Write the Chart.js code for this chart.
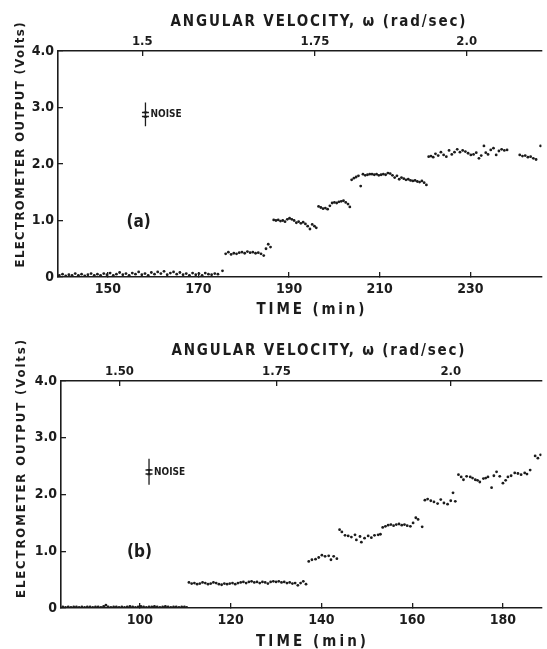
<!DOCTYPE html>
<html>
<head>
<meta charset="utf-8">
<script src="https://cdn.jsdelivr.net/npm/chart.js@4.4.1/dist/chart.umd.min.js"></script>
<style>
  body { margin: 0; background: #fff; }
  canvas { display: block; }
</style>
</head>
<body>
<canvas id="chartA" width="547" height="325"></canvas>
<canvas id="chartB" width="547" height="324"></canvas>
<script>
// ---- shared ----
const voltTicks = [0, 1, 2, 3, 4];

// ---- panel (a) ----
const timeRangeA = [139.0, 245.7];
const timeTicksA = [150, 170, 190, 210, 230];
const omegaLabelsA = ['1.5', '1.75', '2.0'];
const omegaTimesA = [157.6, 195.7, 229.2];

// [time (min), output (V)]
const stepA0 = [[139.3,0.03],[140.0,0.05],[140.7,0.02],[141.4,0.04],[142.1,0.03],[142.8,0.06],[143.5,0.03],[144.2,0.05],[144.9,0.02],[145.6,0.04],[146.3,0.06],[147.0,0.03],[147.7,0.05],[148.4,0.03],[149.1,0.06],[149.8,0.04],[150.5,0.07],[151.2,0.03],[151.9,0.05],[152.6,0.08],[153.3,0.04],[154.0,0.06],[154.7,0.03],[155.4,0.07],[156.1,0.05],[156.8,0.09],[157.5,0.04],[158.2,0.06],[158.9,0.03],[159.6,0.08],[160.3,0.05],[161.0,0.09],[161.7,0.06],[162.4,0.10],[163.1,0.04],[163.8,0.07],[164.5,0.09],[165.2,0.05],[165.9,0.08],[166.6,0.04],[167.3,0.06],[168.0,0.03],[168.7,0.07],[169.4,0.04],[170.1,0.06],[170.8,0.03],[171.5,0.07],[172.2,0.05],[172.9,0.04],[173.6,0.06],[174.3,0.05],[175.3,0.11]];
const stepA1 = [[176.0,0.41],[176.6,0.44],[177.2,0.40],[177.8,0.42],[178.4,0.41],[179.0,0.43],[179.6,0.44],[180.2,0.42],[180.8,0.45],[181.4,0.43],[182.0,0.44],[182.6,0.42],[183.2,0.43],[183.8,0.41],[184.4,0.38],[184.9,0.50],[185.4,0.58],[185.9,0.53]];
const stepA2 = [[186.6,1.01],[187.1,1.00],[187.6,1.01],[188.1,0.99],[188.6,1.00],[189.1,0.98],[189.6,1.02],[190.1,1.04],[190.6,1.02],[191.1,1.00],[191.6,0.96],[192.1,0.98],[192.6,0.95],[193.1,0.97],[193.6,0.94],[194.1,0.90],[194.6,0.85],[195.1,0.93],[195.6,0.90],[196.0,0.87]];
const stepA3 = [[196.5,1.25],[197.0,1.23],[197.5,1.21],[198.0,1.22],[198.5,1.20],[199.0,1.26],[199.5,1.31],[200.0,1.32],[200.5,1.31],[201.0,1.33],[201.5,1.34],[202.0,1.35],[202.5,1.32],[203.0,1.29],[203.4,1.24]];
const stepA4 = [[203.8,1.72],[204.3,1.75],[204.8,1.77],[205.3,1.79],[205.8,1.61],[206.3,1.82],[206.8,1.80],[207.3,1.81],[207.8,1.82],[208.3,1.82],[208.8,1.81],[209.3,1.82],[209.8,1.80],[210.3,1.81],[210.8,1.82],[211.3,1.81],[211.8,1.84],[212.3,1.83],[212.8,1.80],[213.3,1.76],[213.8,1.79],[214.3,1.73],[214.8,1.76],[215.3,1.74],[215.8,1.72],[216.3,1.73],[216.8,1.71],[217.3,1.70],[217.8,1.71],[218.3,1.69],[218.8,1.68],[219.3,1.70],[219.8,1.67],[220.3,1.63]];
const stepA5 = [[220.8,2.13],[221.3,2.14],[221.8,2.12],[222.3,2.18],[222.9,2.15],[223.5,2.21],[224.1,2.16],[224.7,2.13],[225.3,2.24],[225.9,2.17],[226.5,2.21],[227.1,2.26],[227.7,2.21],[228.3,2.24],[228.9,2.22],[229.5,2.19],[230.1,2.16],[230.7,2.17],[231.3,2.20],[231.9,2.10],[232.4,2.15],[233.0,2.32],[233.4,2.20],[233.9,2.17],[234.5,2.25],[235.1,2.28],[235.7,2.16],[236.3,2.23],[236.9,2.26],[237.5,2.24],[238.1,2.25]];
const stepA6 = [[240.9,2.16],[241.5,2.14],[242.1,2.15],[242.7,2.12],[243.3,2.13],[243.9,2.10],[244.5,2.08],[245.5,2.32]];

// noise bar: time, top, bottom, band lines
const noiseA = { t: 158.3, top: 3.09, bottom: 2.67, band: [2.91, 2.84] };
const labelA = { text: '(a)', t: 156.8, v: 0.96 };

// ---- panel (b) ----
const timeRangeB = [82.6, 188.5];
const timeTicksB = [100, 120, 140, 160, 180];
const omegaLabelsB = ['1.50', '1.75', '2.0'];
const omegaTimesB = [95.5, 130.1, 168.5];

const stepB0 = [[83.0,0.02],[83.6,0.01],[84.2,0.02],[84.8,0.01],[85.4,0.02],[86.0,0.02],[86.6,0.01],[87.2,0.02],[87.8,0.01],[88.4,0.02],[89.0,0.02],[89.6,0.01],[90.2,0.02],[90.8,0.02],[91.4,0.01],[92.0,0.03],[92.5,0.05],[93.0,0.02],[93.6,0.01],[94.2,0.02],[94.8,0.02],[95.4,0.01],[96.0,0.02],[96.6,0.01],[97.2,0.02],[97.8,0.03],[98.4,0.02],[99.0,0.01],[99.6,0.02],[100.2,0.03],[100.8,0.02],[101.4,0.01],[102.0,0.02],[102.6,0.02],[103.2,0.03],[103.8,0.02],[104.4,0.01],[105.0,0.02],[105.6,0.03],[106.2,0.02],[106.8,0.01],[107.4,0.02],[108.0,0.02],[108.6,0.01],[109.2,0.02],[109.8,0.02],[110.3,0.01]];
const stepB1 = [[110.8,0.45],[111.4,0.43],[112.0,0.44],[112.6,0.42],[113.2,0.43],[113.8,0.45],[114.4,0.44],[115.0,0.42],[115.6,0.43],[116.2,0.45],[116.8,0.44],[117.4,0.42],[118.0,0.41],[118.6,0.43],[119.2,0.42],[119.8,0.43],[120.4,0.44],[121.0,0.42],[121.6,0.44],[122.2,0.45],[122.8,0.46],[123.4,0.44],[124.0,0.46],[124.6,0.47],[125.2,0.45],[125.8,0.46],[126.4,0.44],[127.0,0.46],[127.6,0.45],[128.2,0.43],[128.8,0.46],[129.4,0.47],[130.0,0.46],[130.6,0.47],[131.2,0.45],[131.8,0.46],[132.4,0.44],[133.0,0.45],[133.6,0.43],[134.2,0.44],[134.8,0.40],[135.4,0.44],[136.0,0.47],[136.6,0.42]];
const stepB2 = [[137.2,0.82],[137.9,0.85],[138.7,0.86],[139.4,0.89],[140.1,0.93],[140.8,0.91],[141.6,0.92],[142.1,0.85],[142.7,0.91],[143.4,0.87]];
const stepB3 = [[144.0,1.38],[144.5,1.34],[145.2,1.28],[145.9,1.27],[146.6,1.25],[147.4,1.29],[147.7,1.20],[148.5,1.26],[148.8,1.16],[149.5,1.23],[150.3,1.27],[151.0,1.24],[151.7,1.28],[152.5,1.29],[153.0,1.30]];
const stepB4 = [[153.5,1.42],[154.1,1.44],[154.7,1.46],[155.3,1.47],[155.9,1.45],[156.5,1.47],[157.1,1.48],[157.7,1.46],[158.3,1.47],[158.9,1.45],[159.6,1.44],[160.2,1.50],[160.8,1.59],[161.3,1.56],[162.2,1.43]];
const stepB5 = [[162.8,1.90],[163.4,1.92],[164.1,1.89],[164.8,1.87],[165.6,1.84],[166.3,1.91],[167.0,1.85],[167.8,1.83],[168.5,1.89],[169.0,2.03],[169.5,1.88]];
const stepB6 = [[170.2,2.35],[170.8,2.31],[171.3,2.26],[172.0,2.32],[172.8,2.31],[173.3,2.29],[173.9,2.26],[174.4,2.25],[174.9,2.22],[175.7,2.28],[176.2,2.29],[176.7,2.31],[177.5,2.12],[178.0,2.33],[178.6,2.40],[179.3,2.32],[180.0,2.20],[180.6,2.25],[181.1,2.31],[181.8,2.33],[182.6,2.38],[183.3,2.37],[184.0,2.35],[184.8,2.38],[185.3,2.36],[186.0,2.43]];
const stepB7 = [[187.1,2.68],[187.7,2.64],[188.3,2.70]];

const noiseB = { t: 102.0, top: 2.63, bottom: 2.17, band: [2.43, 2.36] };
const labelB = { text: '(b)', t: 99.9, v: 0.98 };

// ---- drawing ----
const FONT = '"DejaVu Sans Condensed", "Liberation Sans Narrow", "DejaVu Sans", sans-serif';
const INK = '#1c1c1c';

function spacedText(ctx, text, cx, cy, width, font, rot) {
  ctx.save();
  ctx.font = font;
  ctx.letterSpacing = '0px';
  const w = ctx.measureText(text).width;
  ctx.letterSpacing = ((width - w) / (text.length - 1)) + 'px';
  ctx.translate(cx, cy);
  if (rot) ctx.rotate(rot);
  ctx.textAlign = 'left';
  ctx.textBaseline = 'middle';
  ctx.fillText(text, -width / 2, 0);
  ctx.restore();
}

const textPlugin = {
  id: 'texts',
  afterDraw(chart, args, o) {
    const { ctx, scales: { x, y } } = chart;
    ctx.save();
    ctx.fillStyle = INK;
    spacedText(ctx, 'ANGULAR VELOCITY, \u03c9 (rad/sec)', o.top.cx, o.top.cy, o.top.w, `bold 15px ${FONT}`);
    spacedText(ctx, 'TIME (min)', o.time.cx, o.time.cy, o.time.w, `bold 15px ${FONT}`);
    spacedText(ctx, 'ELECTROMETER OUTPUT (Volts)', o.yt.cx, o.yt.cy, o.yt.w, `bold 13px ${FONT}`, -Math.PI / 2);
    ctx.font = `bold 17px ${FONT}`;
    ctx.textAlign = 'center';
    ctx.textBaseline = 'middle';
    ctx.fillText(o.label.text, x.getPixelForValue(o.label.t), y.getPixelForValue(o.label.v));
    ctx.font = `bold 10px ${FONT}`;
    ctx.textAlign = 'left';
    ctx.fillText('NOISE', x.getPixelForValue(o.noise.t) + 5, y.getPixelForValue((o.noise.band[0] + o.noise.band[1]) / 2));
    ctx.restore();
  }
};

function makePanel(id, p) {
  const pts = p.steps.flat().map(([t, v]) => ({ x: t, y: v }));
  const n = p.noise;
  const tickFont = { family: FONT, size: 14, weight: 'bold' };
  const axisCommon = {
    type: 'linear',
    min: p.range[0],
    max: p.range[1],
    grid: { drawOnChartArea: false, drawTicks: true, tickLength: -5, color: INK, lineWidth: 1.3 },
    border: { color: INK, width: 1.6 }
  };
  new Chart(document.getElementById(id), {
    type: 'scatter',
    data: {
      datasets: [
        { data: pts, pointRadius: 1.4, pointBackgroundColor: INK, pointBorderWidth: 0, showLine: false },
        { data: [{ x: n.t, y: n.top }, { x: n.t, y: n.bottom }], showLine: true, borderColor: INK, borderWidth: 1.3, pointRadius: 0 },
        { data: n.band.map(v => ({ x: n.t, y: v })), pointStyle: 'line', pointRadius: 3.5, pointBorderColor: INK, pointBorderWidth: 1.5 },
        { data: n.band.map(v => ({ x: n.t, y: v })), pointStyle: 'triangle', pointRotation: [180, 0], pointRadius: 2.2,
          pointBackgroundColor: INK, pointBorderWidth: 0, clip: false }
      ]
    },
    options: {
      responsive: false,
      animation: false,
      events: [],
      layout: { padding: 0 },
      plugins: {
        legend: { display: false },
        tooltip: { enabled: false },
        texts: p.texts
      },
      scales: {
        x: Object.assign({}, axisCommon, {
          position: 'bottom',
          afterBuildTicks: s => { s.ticks = p.timeTicks.map(v => ({ value: v })); },
          ticks: { font: tickFont, color: INK, padding: 9, maxRotation: 0, autoSkip: false },
          afterFit: s => { s.height = p.bottomH; }
        }),
        x2: Object.assign({}, axisCommon, {
          position: 'top',
          afterBuildTicks: s => { s.ticks = p.omegaTimes.map(v => ({ value: v })); },
          ticks: { font: { family: FONT, size: 13, weight: 'bold' }, color: INK, padding: 7, maxRotation: 0, autoSkip: false,
                   callback: (v, i) => p.omegaLabels[i] },
          afterFit: s => { s.height = p.topH; }
        }),
        y: {
          type: 'linear',
          position: 'left',
          min: 0,
          max: 4,
          afterBuildTicks: s => { s.ticks = voltTicks.map(v => ({ value: v })); },
          ticks: { font: tickFont, color: INK, padding: 9, callback: v => v === 0 ? '0' : v.toFixed(1) },
          grid: { drawOnChartArea: false, drawTicks: true, tickLength: -5, color: INK, lineWidth: 1.3 },
          border: { color: INK, width: 1.6 },
          afterFit: s => { s.width = p.yWidth; }
        }
      }
    },
    plugins: [textPlugin]
  });
}

makePanel('chartA', {
  steps: [stepA0, stepA1, stepA2, stepA3, stepA4, stepA5, stepA6],
  range: timeRangeA, timeTicks: timeTicksA, omegaTimes: omegaTimesA, omegaLabels: omegaLabelsA,
  noise: noiseA, yWidth: 58, topH: 51, bottomH: 48,
  texts: {
    top: { cx: 318, cy: 22.5, w: 295 },
    time: { cx: 310.5, cy: 310, w: 108 },
    yt: { cx: 21, cy: 145, w: 245 },
    label: labelA, noise: noiseA
  }
});

makePanel('chartB', {
  steps: [stepB0, stepB1, stepB2, stepB3, stepB4, stepB5, stepB6, stepB7],
  range: timeRangeB, timeTicks: timeTicksB, omegaTimes: omegaTimesB, omegaLabels: omegaLabelsB,
  noise: noiseB, yWidth: 61, topH: 56, bottomH: 41,
  texts: {
    top: { cx: 318, cy: 26.5, w: 293 },
    time: { cx: 311, cy: 317, w: 110 },
    yt: { cx: 22, cy: 144, w: 258 },
    label: labelB, noise: noiseB
  }
});
</script>
</body>
</html>
